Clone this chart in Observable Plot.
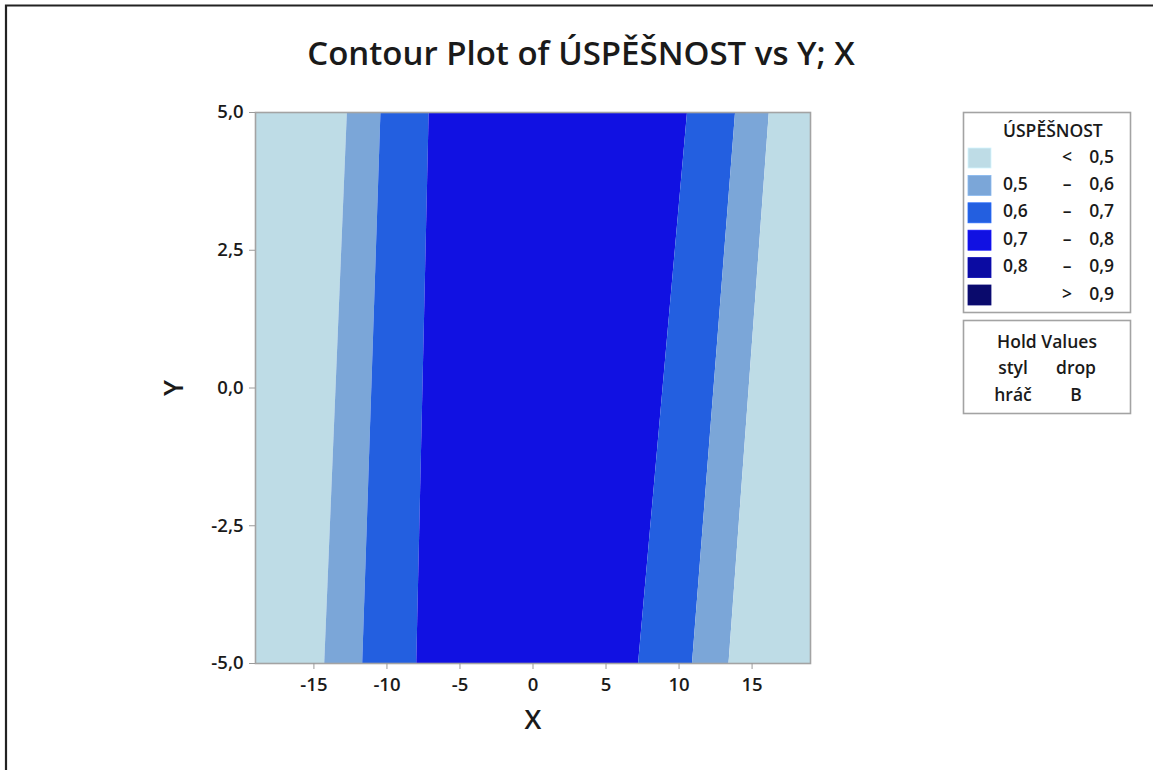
<!DOCTYPE html>
<html>
<head>
<meta charset="utf-8">
<script src="https://cdn.jsdelivr.net/npm/d3@7"></script>
<script src="https://cdn.jsdelivr.net/npm/@observablehq/plot@0.6"></script>
<style>
  html, body { margin: 0; padding: 0; background: #fff; }
  #chart svg { display: block; }
</style>
</head>
<body>
<div id="chart"></div>
<script>
// Y values at which each contour edge is sampled (bottom and top of the plot)
const yLevels = [-5, 5];

// X position of each contour edge at Y = -5 and Y = 5
const edge05Left  = [-14.26, -12.71];
const edge06Left  = [-11.66, -10.41];
const edge07Left  = [-7.96, -7.11];
const edge07Right = [7.23, 10.58];
const edge06Right = [10.92, 13.87];
const edge05Right = [13.42, 16.18];

// X extent of the surface
const xMin = -19, xMax = 19;

// Contour classes (legend order)
const classLabels = ["< 0,5", "0,5 – 0,6", "0,6 – 0,7", "0,7 – 0,8", "0,8 – 0,9", "> 0,9"];
const classLow    = ["", "0,5", "0,6", "0,7", "0,8", ""];
const classSep    = ["<", "–", "–", "–", "–", ">"];
const classHigh   = ["0,5", "0,6", "0,7", "0,8", "0,9", "0,9"];
const classColors = ["#bedce6", "#7ba6d8", "#235fe0", "#1111e2", "#0b0ba2", "#0a0a6c"];

// Tick values
const xTicks = [-15, -10, -5, 0, 5, 10, 15];
const yTicks = [-5, -2.5, 0, 2.5, 5];

// Hold values table
const holdNames  = ["styl", "hráč"];
const holdValues = ["drop", "B"];

// Each region between two edges becomes one band segment
const segments = [
  {cls: 0, left: yLevels.map(() => xMin), right: edge05Left},
  {cls: 1, left: edge05Left, right: edge06Left},
  {cls: 2, left: edge06Left, right: edge07Left},
  {cls: 3, left: edge07Left, right: edge07Right},
  {cls: 2, left: edge07Right, right: edge06Right},
  {cls: 1, left: edge06Right, right: edge05Right},
  {cls: 0, left: edge05Right, right: yLevels.map(() => xMax)}
];
const bandRows = segments.flatMap((s, i) =>
  yLevels.map((y, j) => ({seg: i, cls: classLabels[s.cls], y, x1: s.left[j], x2: s.right[j]}))
);

const fmt = d => (d < 0 ? "-" : "") + Math.abs(d).toFixed(1).replace(".", ",");
const font = "'Open Sans', 'Noto Sans', sans-serif";
const ink = "#1a1a1a";

const W = 1153, H = 770;
const chart = Plot.plot({
  width: W,
  height: H,
  marginLeft: 255,
  marginRight: W - 810,
  marginTop: 112,
  marginBottom: H - 663,
  style: {fontFamily: font, fontSize: "18px", color: ink, background: "#fff"},
  x: {domain: [xMin, xMax]},
  y: {domain: [-5, 5]},
  color: {domain: classLabels, range: classColors},
  marks: [
    Plot.areaX(bandRows, {y: "y", x1: "x1", x2: "x2", z: "seg", fill: "cls"}),
    Plot.frame({stroke: "#a3a3a3", strokeWidth: 1.6}),
    Plot.axisX({ticks: xTicks, tickFormat: d => (d < 0 ? "-" : "") + Math.abs(d), tickSize: 6, tickPadding: 8,
      stroke: "#9a9a9a", fontSize: 18.5, fontWeight: 600, label: null}),
    Plot.axisY({ticks: yTicks, tickFormat: fmt, tickSize: 6, tickPadding: 6,
      stroke: "#9a9a9a", fontSize: 18.5, fontWeight: 600, label: null})
  ]
});

const svg = d3.select(chart);

// Outer window frame (top and left edges)
svg.append("path").attr("d", `M6,${H} V5.5 H${W}`).attr("fill", "none")
  .attr("stroke", "#222").attr("stroke-width", 2.2);

// Title and axis labels
svg.append("text").attr("x", 581).attr("y", 56).attr("text-anchor", "middle").attr("dominant-baseline", "middle")
  .attr("font-family", font).attr("font-size", 33).attr("font-weight", 600).attr("fill", ink)
  .text("Contour Plot of ÚSPĚŠNOST vs Y; X");
svg.append("text").attr("x", 533).attr("y", 722).attr("text-anchor", "middle").attr("dominant-baseline", "middle")
  .attr("font-family", font).attr("font-size", 27).attr("font-weight", 600).attr("fill", ink).text("X");
svg.append("text").attr("transform", "translate(176,388) rotate(-90)").attr("text-anchor", "middle")
  .attr("dominant-baseline", "middle").attr("font-family", font).attr("font-size", 27).attr("font-weight", 600)
  .attr("fill", ink).text("Y");

// Legend box
const lg = svg.append("g").attr("font-family", font).attr("font-size", 17.5).attr("font-weight", 600).attr("fill", ink)
  .attr("text-anchor", "start");
lg.append("rect").attr("x", 963.5).attr("y", 112.5).attr("width", 167).attr("height", 200)
  .attr("fill", "#fff").attr("stroke", "#a3a3a3").attr("stroke-width", 1.6);
lg.append("text").attr("x", 1003).attr("y", 132).attr("dominant-baseline", "middle").text("ÚSPĚŠNOST");
classLabels.forEach((c, i) => {
  const cy = 158 + i * 27.4;
  lg.append("rect").attr("x", 968).attr("y", cy - 10).attr("width", 23).attr("height", 20)
    .attr("fill", classColors[i]).attr("stroke", d3.color(classColors[i]).brighter(0.3)).attr("stroke-width", 0.8);
  lg.append("text").attr("x", 1003).attr("y", cy).attr("dominant-baseline", "middle").text(classLow[i]);
  lg.append("text").attr("x", 1067).attr("y", cy).attr("text-anchor", "middle").attr("dominant-baseline", "middle").text(classSep[i]);
  lg.append("text").attr("x", 1114).attr("y", cy).attr("text-anchor", "end").attr("dominant-baseline", "middle").text(classHigh[i]);
});

// Hold values box
const hv = svg.append("g").attr("font-family", font).attr("font-size", 17.5).attr("font-weight", 600).attr("fill", ink)
  .attr("text-anchor", "middle");
hv.append("rect").attr("x", 963.5).attr("y", 320.5).attr("width", 167).attr("height", 93)
  .attr("fill", "#fff").attr("stroke", "#a3a3a3").attr("stroke-width", 1.6);
hv.append("text").attr("x", 1047).attr("y", 343).attr("dominant-baseline", "middle").text("Hold Values");
holdNames.forEach((n, i) => {
  const cy = 369 + i * 27;
  hv.append("text").attr("x", 1013).attr("y", cy).attr("dominant-baseline", "middle").text(n);
  hv.append("text").attr("x", 1076).attr("y", cy).attr("dominant-baseline", "middle").text(holdValues[i]);
});

document.getElementById("chart").appendChild(chart);
</script>
</body>
</html>
